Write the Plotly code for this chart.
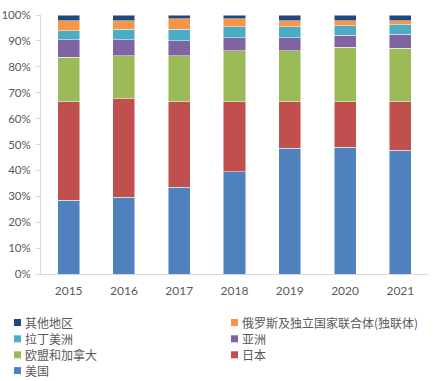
import plotly.graph_objects as go

years = ["2015", "2016", "2017", "2018", "2019", "2020", "2021"]

# stacked shares (%), bottom to top
usa      = [28.5, 29.6, 33.5, 39.4, 48.6, 49.0, 47.7]
japan    = [38.1, 38.1, 33.1, 27.2, 18.0, 17.6, 18.9]
eu_can   = [17.1, 16.5, 17.6, 19.6, 19.6, 20.9, 20.5]
asia     = [6.8, 6.3, 5.8, 5.0, 5.0, 4.6, 5.4]
latam    = [3.4, 4.0, 4.5, 4.2, 4.2, 3.8, 3.7]
russia   = [3.9, 3.3, 4.0, 3.1, 2.4, 1.9, 1.6]
others   = [2.2, 2.2, 1.5, 1.5, 2.2, 2.2, 2.2]

series_names = ["美国", "日本", "欧盟和加拿大", "亚洲", "拉丁美洲", "俄罗斯及独立国家联合体(独联体)", "其他地区"]
series_values = [usa, japan, eu_can, asia, latam, russia, others]
series_colors = ["#4F81BD", "#C0504D", "#9BBB59", "#8064A2", "#4BACC6", "#F79646", "#1F497D"]

W, H = 436, 381
ML, MR, MT, MB = 41, 8, 15, 107
PW = W - ML - MR
PH = H - MT - MB

fig = go.Figure()
for name, vals, col in zip(series_names, series_values, series_colors):
    fig.add_trace(go.Bar(
        x=years, y=[v / 100 for v in vals], name=name,
        marker=dict(color=col, line=dict(color="rgba(255,255,255,0.6)", width=0.8)),
        showlegend=False, hoverinfo="skip",
    ))

# manual legend (two columns, reversed order, row-major)
legend_order = list(range(len(series_names)))[::-1]
col_x = [14, 231]
row_y = [322.5, 338.8, 354.8, 370.6]
shapes = []
annotations = []
for k, idx in enumerate(legend_order):
    r, c = divmod(k, 2)
    px, py = col_x[c], row_y[r]
    x0 = (px - ML) / PW
    x1 = (px + 7 - ML) / PW
    y0 = (H - MB - (py + 3.5)) / PH
    y1 = (H - MB - (py - 3.5)) / PH
    shapes.append(dict(type="rect", xref="paper", yref="paper", x0=x0, x1=x1, y0=y0, y1=y1,
                       fillcolor=series_colors[idx], line=dict(width=0)))
    annotations.append(dict(text=series_names[idx], xref="paper", yref="paper",
                            x=(px + 9 - ML) / PW, y=(H - MB - py) / PH,
                            xanchor="left", yanchor="middle", showarrow=False,
                            font=dict(family="Noto Sans CJK SC", size=12, color="#595959")))

fig.update_layout(
    width=W, height=H,
    barmode="stack", bargap=0.6,
    margin=dict(l=ML, r=MR, t=MT, b=MB, autoexpand=False),
    plot_bgcolor="white", paper_bgcolor="white",
    shapes=shapes, annotations=annotations,
    font=dict(family="Lato, Noto Sans CJK SC", size=12, color="#595959"),
)
fig.update_xaxes(showline=True, linecolor="#D9D9D9", linewidth=1, showgrid=False, automargin=False,
                 ticks="", tickfont=dict(size=12, color="#595959"), ticklabelstandoff=6)
fig.update_yaxes(range=[0, 1], tickformat=".0%", dtick=0.1, showline=True, linecolor="#D9D9D9",
                 linewidth=1, showgrid=False, ticks="outside", ticklen=4, tickcolor="#D9D9D9",
                 automargin=False, tickfont=dict(size=11.5, color="#595959"), zeroline=False,
                 ticklabelstandoff=3)

fig.write_html("out.html", config={"displayModeBar": False, "staticPlot": True},
               post_script="document.body.style.margin='0';document.body.style.overflow='hidden';")
